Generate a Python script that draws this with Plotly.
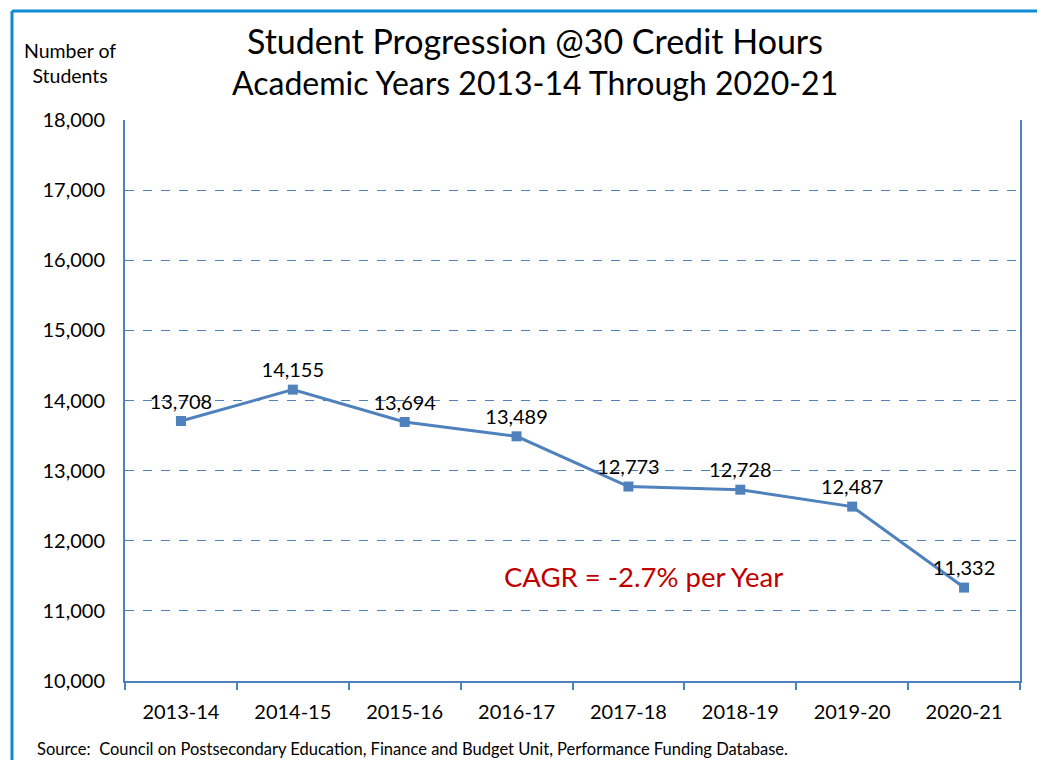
import plotly.graph_objects as go

years = ["2013-14", "2014-15", "2015-16", "2016-17", "2017-18", "2018-19", "2019-20", "2020-21"]
students = [13708, 14155, 13694, 13489, 12773, 12728, 12487, 11332]
labels = [f"{v:,}" for v in students]
y_ticks = list(range(10000, 18001, 1000))
y_tick_labels = [f"{v:,}" for v in y_ticks]

FONT = "Lato, Carlito, Calibri, sans-serif"
BLUE = "#4F81BD"
FRAME = "#0E8BD3"

# The page body has an 8px margin; work in screen pixels and shift.
OFF = 8
W, H = 1045 - 2 * OFF, 768 - 2 * OFF
# plot area in screen pixels
SX0, SX1, SY0, SY1 = 125, 1020, 120, 681
L = SX0 - OFF
R = W - (SX1 - OFF)
T = SY0 - OFF
B = H - (SY1 - OFF)
pw, ph = SX1 - SX0, SY1 - SY0


def px(x):
    return (x - SX0) / pw


def py(y):
    return (SY1 - y) / ph


fig = go.Figure()
fig.add_trace(go.Scatter(
    x=years, y=students, mode="lines+markers+text",
    line=dict(color=BLUE, width=3),
    marker=dict(symbol="square", size=10, color=BLUE),
    text=labels, textposition="top center",
    textfont=dict(family=FONT, size=20, color="black"),
    cliponaxis=False, showlegend=False, hoverinfo="x+y",
))

fig.update_layout(
    width=W, height=H,
    margin=dict(l=L, r=R, t=T, b=B, pad=0),
    paper_bgcolor="white", plot_bgcolor="white",
    font=dict(family=FONT, size=20, color="black"),
    xaxis=dict(
        type="category", showline=True, linecolor=BLUE, linewidth=2,
        ticks="outside", tickson="boundaries", ticklen=7, tickcolor=BLUE, tickwidth=1.5,
        showgrid=False, tickfont=dict(family=FONT, size=20), range=[-0.5, 7.5],
        ticklabelstandoff=12,
    ),
    yaxis=dict(
        range=[10000, 18000], tickvals=y_ticks, ticktext=y_tick_labels,
        showline=True, linecolor=BLUE, linewidth=2, mirror=True,
        ticks="", ticklabelstandoff=14,
        showgrid=True, gridcolor=BLUE, griddash="dash", gridwidth=1,
        zeroline=False, tickfont=dict(family=FONT, size=20),
    ),
    annotations=[
        dict(text="Student Progression @30 Credit Hours", x=px(535), y=py(40),
             xref="paper", yref="paper", showarrow=False, xanchor="center", yanchor="middle",
             font=dict(family=FONT, size=34, color="black")),
        dict(text="Academic Years 2013-14 Through 2020-21", x=px(535), y=py(82),
             xref="paper", yref="paper", showarrow=False, xanchor="center", yanchor="middle",
             font=dict(family=FONT, size=32, color="black")),
        dict(text="Number of<br>Students", x=px(70), y=py(63),
             xref="paper", yref="paper", showarrow=False, xanchor="center", yanchor="middle",
             font=dict(family=FONT, size=19.5, color="black")),
        dict(text="CAGR = -2.7% per Year", x=px(643), y=py(576),
             xref="paper", yref="paper", showarrow=False, xanchor="center", yanchor="middle",
             font=dict(family=FONT, size=27.5, color="#C00000")),
        dict(text="Source:  Council on Postsecondary Education, Finance and Budget Unit, Performance Funding Database.",
             x=px(35), y=py(749), xref="paper", yref="paper", showarrow=False,
             xanchor="left", yanchor="middle", font=dict(family=FONT, size=16.5, color="black")),
    ],
    shapes=[
        dict(type="line", xref="paper", yref="paper",
             x0=px(12), y0=py(11), x1=px(1100), y1=py(11),
             line=dict(color=FRAME, width=3), layer="above"),
        dict(type="line", xref="paper", yref="paper",
             x0=px(12), y0=py(11), x1=px(12), y1=py(900),
             line=dict(color=FRAME, width=3), layer="above"),
    ],
)

fig.write_html("out.html")
